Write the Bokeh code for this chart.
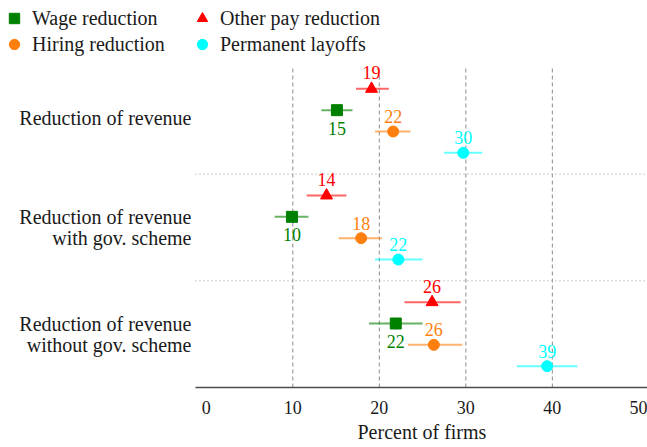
from bokeh.plotting import figure
from bokeh.models import FixedTicker, Legend, LegendItem, ColumnDataSource, Title
from bokeh.core.properties import value
from bokeh.embed import file_html
from bokeh.resources import INLINE

# ---- data ----
categories = ["Reduction of revenue",
              "Reduction of revenue\nwith gov. scheme",
              "Reduction of revenue\nwithout gov. scheme"]
group_pos = [2.5, 1.5, 0.5]
separators = [1, 2]

other_pay = [19.1, 13.9, 26.1]
other_pay_lo = [17.3, 11.6, 22.9]
other_pay_hi = [21.1, 16.2, 29.4]
wage = [15.1, 9.9, 21.9]
wage_lo = [13.3, 7.9, 18.8]
wage_hi = [16.9, 11.8, 25.0]
hiring = [21.6, 17.9, 26.3]
hiring_lo = [19.5, 15.3, 23.3]
hiring_hi = [23.6, 20.3, 29.6]
layoffs = [29.7, 22.2, 39.4]
layoffs_lo = [27.5, 19.5, 35.9]
layoffs_hi = [31.9, 25.0, 42.9]
x_ticks = [0, 10, 20, 30, 40, 50]
grid_ticks = [10, 20, 30, 40]
x_title = "Percent of firms"

FONT = "Liberation Serif"

# layout: the data area spans x in [XMIN, XMAX]; the frame is widened to the
# left (for the category labels) and upward (for the legend)
XMIN, XMAX = -1.25, 51.0
W, H = 647, 447
LEFT, BOTTOM, TOP_PAD = 195, 60, 67
px_per_x = (W - LEFT) / (XMAX - XMIN)
px_per_y = (H - BOTTOM - TOP_PAD) / 3.0
x_lo_view = XMIN - LEFT / px_per_x
y_hi_view = (H - BOTTOM) / px_per_y

p = figure(width=W, height=H, output_backend="svg", toolbar_location=None,
           x_range=(x_lo_view, XMAX), y_range=(0, y_hi_view),
           min_border_left=0, min_border_right=0, min_border_top=0, min_border_bottom=BOTTOM)
p.outline_line_color = None
p.background_fill_color = "white"
p.grid.visible = False
p.yaxis.visible = False

# vertical dashed gridlines, limited to the data area
p.segment(x0=grid_ticks, y0=[0] * len(grid_ticks), x1=grid_ticks, y1=[3] * len(grid_ticks),
          line_color="#8c8c8c", line_dash="4 3", line_width=1)
# dotted group separators
p.segment(x0=[XMIN] * len(separators), y0=separators, x1=[XMAX] * len(separators), y1=separators,
          line_color="#999999", line_dash="1 3", line_width=1)

specs = [
    ("Other pay reduction", other_pay, other_pay_lo, other_pay_hi, "#FF0000", "triangle", 0.3, -16, 12),
    ("Wage reduction", wage, wage_lo, wage_hi, "#008000", "square", 0.1, 18, 11),
    ("Hiring reduction", hiring, hiring_lo, hiring_hi, "#FF7F0E", "circle", -0.1, -15, 11),
    ("Permanent layoffs", layoffs, layoffs_lo, layoffs_hi, "#00FFFF", "circle", -0.3, -15, 11),
]

renderers = {}
for name, vals, lo, hi, color, marker, off, yoff, size in specs:
    ys = [g + off for g in group_pos]
    src = ColumnDataSource(dict(x=vals, y=ys, lo=lo, hi=hi,
                                lab=[f"{v:.0f}" for v in vals]))
    p.segment(x0="lo", y0="y", x1="hi", y1="y", source=src, line_color=color,
              line_width=2, line_alpha=0.6)
    renderers[name] = p.scatter(x="x", y="y", source=src, marker=marker, size=size,
                                fill_color=color, line_color=color)
    p.text(x="x", y="y", text="lab", source=src, text_align="center",
           text_baseline="middle", y_offset=yoff, text_color=color,
           text_font=value(FONT), text_font_size="18px")

# category labels (one text per line), right-aligned at the left edge of the data area
lab_y, lab_t = [], []
for g, c in zip(group_pos, categories):
    lines = c.split("\n")
    n = len(lines)
    for i, line in enumerate(lines):
        lab_y.append(g + (n - 1) * 0.1 - i * 0.2 + (0.03 if n == 1 else 0))
        lab_t.append(line)
p.text(x=[XMIN] * len(lab_y), y=lab_y, text=lab_t, x_offset=-4, text_align="right",
       text_baseline="middle", text_color="#1a1a1a", text_font=value(FONT),
       text_font_size="20px")

# x axis
p.xaxis.bounds = (XMIN, XMAX)
p.xaxis.ticker = FixedTicker(ticks=x_ticks)
p.xaxis.major_label_text_font = FONT
p.xaxis.major_label_text_font_size = "18px"
p.xaxis.major_label_text_color = "#1a1a1a"
p.xaxis.major_label_standoff = 7
p.xaxis.major_tick_line_color = None
p.xaxis.minor_tick_line_color = None
p.xaxis.axis_line_color = "#4d4d4d"
p.xaxis.axis_line_width = 1.5

# x-axis title, centred under the data area
p.add_layout(Title(text=x_title, align="left", offset=357, standoff=4,
                   text_font=FONT, text_font_size="20px", text_font_style="normal",
                   text_color="#1a1a1a"), "below")

# legend (top-left, two columns)
legend_order = ["Wage reduction", "Hiring reduction", "Other pay reduction", "Permanent layoffs"]
legend = Legend(items=[LegendItem(label=n, renderers=[renderers[n]]) for n in legend_order],
                location=(1, H - BOTTOM - 57), ncols=2, glyph_width=26, glyph_height=26,
                label_standoff=5, label_width=157, label_height=26, spacing=0,
                padding=0, margin=0, border_line_color=None, background_fill_alpha=0,
                label_text_font=FONT, label_text_font_size="20px",
                label_text_color="#1a1a1a")
p.add_layout(legend)

open("out.html", "w").write(file_html(p, INLINE))
